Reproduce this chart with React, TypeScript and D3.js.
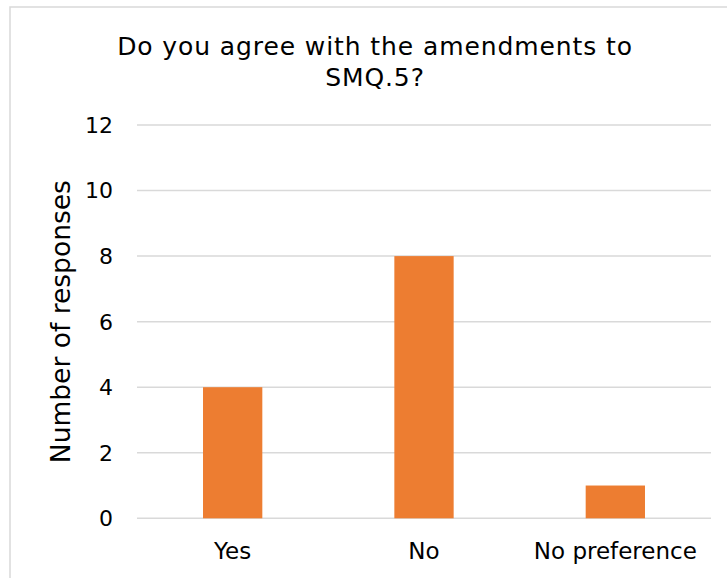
import React from "react";
import * as d3 from "d3";

const categories: string[] = ["Yes", "No", "No preference"];
const responses: number[] = [4, 8, 1];
const yTicks: number[] = [0, 2, 4, 6, 8, 10, 12];
const titleLines: string[] = ["Do you agree with the amendments to", "SMQ.5?"];
const yAxisTitle = "Number of responses";

const W = 727;
const H = 578;
const FONT = "Verdana, 'DejaVu Sans', sans-serif";

export default function App() {
  const x = d3.scaleBand<string>().domain(categories).range([137, 711]).padding(0);
  const y = d3.scaleLinear().domain([0, 12]).range([518.3, 125]);
  const barW = x.bandwidth() * 0.31;

  return (
    <svg
      width={W}
      height={H}
      style={{ position: "absolute", left: 0, top: 0, display: "block", background: "#fff" }}
    >
      <rect x={0} y={0} width={W} height={H} fill="#fff" />
      <rect x={10} y={7} width={900} height={900} fill="none" stroke="#d9d9d9" strokeWidth={1.5} />
      {titleLines.map((t, i) => (
        <text
          key={i}
          x={375}
          y={55 + i * 31}
          textAnchor="middle"
          fontFamily={FONT}
          fontSize={25}
          letterSpacing={0.9}
          fill="#000"
        >
          {t}
        </text>
      ))}
      {yTicks.map((t) => (
        <g key={t}>
          <line x1={137} x2={711} y1={y(t)} y2={y(t)} stroke="#d9d9d9" strokeWidth={1.5} />
          <text
            x={113}
            y={y(t)}
            dy="0.36em"
            textAnchor="end"
            fontFamily={FONT}
            fontSize={22}
            fill="#000"
          >
            {t}
          </text>
        </g>
      ))}
      {categories.map((c, i) => {
        const cx = (x(c) ?? 0) + x.bandwidth() / 2;
        return (
          <g key={c}>
            <rect
              x={cx - barW / 2}
              y={y(responses[i])}
              width={barW}
              height={y(0) - y(responses[i])}
              fill="#ED7D31"
            />
            <text x={cx} y={559} textAnchor="middle" fontFamily={FONT} fontSize={23} fill="#000">
              {c}
            </text>
          </g>
        );
      })}
      <text
        transform={`translate(70, ${(y(0) + y(12)) / 2}) rotate(-90)`}
        textAnchor="middle"
        fontFamily={FONT}
        fontSize={26.5}
        fill="#000"
      >
        {yAxisTitle}
      </text>
    </svg>
  );
}
